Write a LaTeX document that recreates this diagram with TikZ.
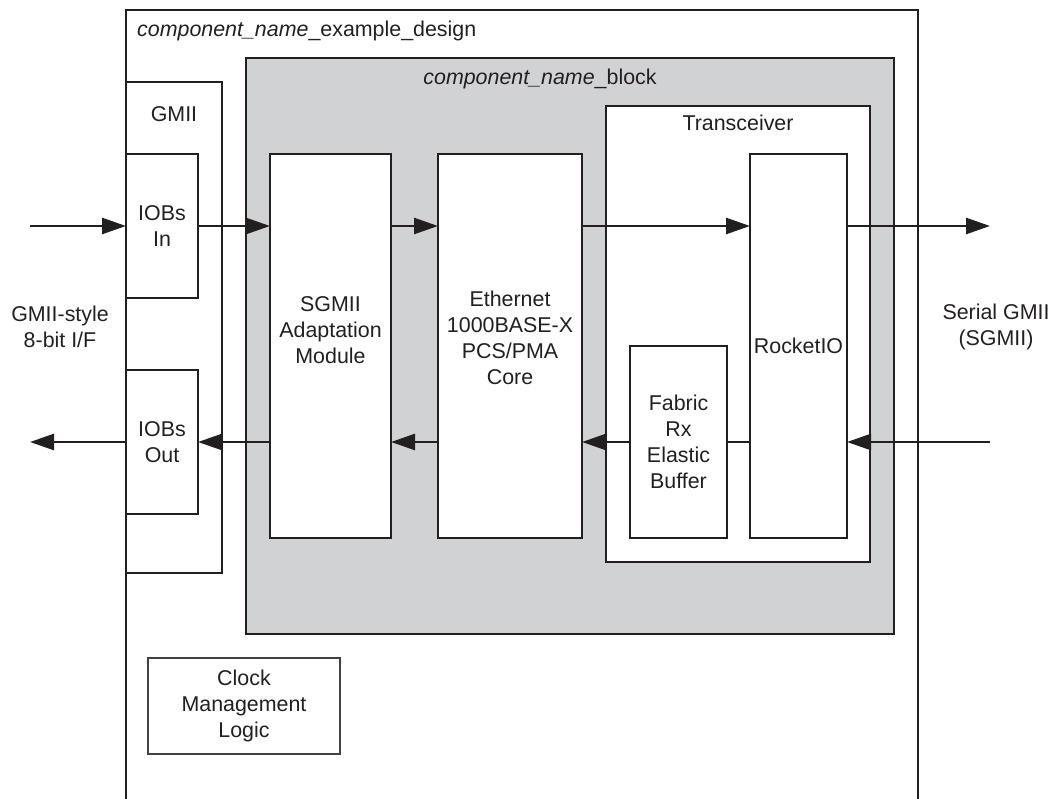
\documentclass[tikz,border=0pt]{standalone}
\usepackage{fontspec}
\setmainfont{Liberation Sans}
\usetikzlibrary{arrows.meta,positioning}
\definecolor{blockgray}{RGB}{209,210,212}
\definecolor{ink}{RGB}{35,31,32}
\tikzset{
  txt/.style={font=\fontsize{21.4}{26}\selectfont, align=center, text=ink, inner sep=0pt},
  box/.style={txt, draw=ink, line width=2.6pt, fill=white, outer sep=0pt},
  thinbox/.style={txt, draw=ink!85, line width=1.4pt, fill=white, outer sep=0pt},
  sig/.style={draw=ink, line width=2.6pt, -{Triangle[length=24pt,width=16pt]}},
  wire/.style={draw=ink, line width=2.6pt},
}
\begin{document}
\begin{tikzpicture}[x=1pt,y=-1pt]
\useasboundingbox (0,0) rectangle (1054,799);
% example design frame
\draw[wire] (126,799) -- (126,10) -- (918,10) -- (918,799);
\node[txt, anchor=west] (designlbl) at (137,31) {\textit{component\_name}\_example\_design};
% GMII
\node[box, minimum width=96, minimum height=491] (gmii) at (174,327.5) {};
\node[txt] (gmiilbl) at (174,114) {GMII};
\node[box, minimum width=72, minimum height=144] (iobin) at (162,226) {IOBs\\In};
\node[box, minimum width=72, minimum height=144] (iobout) at (162,442) {IOBs\\Out};
% block
\node[box, fill=blockgray, minimum width=648, minimum height=576] (block) at (570,346) {};
\node[txt] (blocklbl) at (540,79) {\textit{component\_name}\_block};
\node[box, minimum width=121, minimum height=384] (sgmii) at (330.5,346) {};
\node[txt] at ([yshift=16]sgmii) {SGMII\\Adaptation\\Module};
\node[box, minimum width=144, minimum height=384] (eth) at (510,346) {};
\node[txt] at ([yshift=8]eth) {Ethernet\\1000BASE-X\\PCS/PMA\\Core};
% transceiver
\node[box, minimum width=264, minimum height=456] (trx) at (738,334) {};
\node[txt] (trxlbl) at (738,123) {Transceiver};
\node[box, minimum width=97, minimum height=384] (rocket) at (798.5,346) {RocketIO};
\node[box, minimum width=97, minimum height=192] (fabric) at (678.5,442) {Fabric\\Rx\\Elastic\\Buffer};
% clocking
\node[thinbox, minimum width=192, minimum height=96] (clk) at (244,706) {Clock\\Management\\Logic};
% interface labels
\node[txt] (gmiiside) at (60,327) {GMII-style\\8-bit I/F};
\node[txt] (sgmiiside) at (996,327) {Serial GMII\\(SGMII)};
\coordinate (gin) at (30,226);
\coordinate (gout) at (30,442);
\coordinate (sout) at (990,226);
\coordinate (sin) at (990,442);
% transmit path
\draw[sig] (gin) -- (gin -| iobin.west);
\draw[sig] (iobin.east) -- (iobin.east -| sgmii.west);
\draw[sig] (iobin.east -| sgmii.east) -- (iobin.east -| eth.west);
\draw[sig] (iobin.east -| eth.east) -- (iobin.east -| rocket.west);
\draw[sig] (iobin.east -| rocket.east) -- (sout);
% receive path
\draw[sig] (sin) -- (sin -| rocket.east);
\draw[wire] (rocket.west |- fabric.east) -- (fabric.east);
\draw[sig] (fabric.west) -- (fabric.west -| eth.east);
\draw[sig] (fabric.west -| eth.west) -- (fabric.west -| sgmii.east);
\draw[sig] (fabric.west -| sgmii.west) -- (iobout.east);
\draw[sig] (iobout.west) -- (gout);
\end{tikzpicture}
\end{document}
